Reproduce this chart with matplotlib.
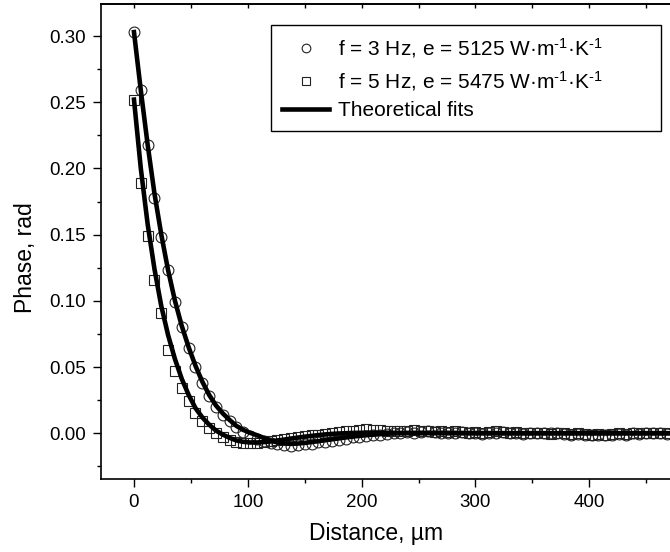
import matplotlib
matplotlib.use("Agg")
import matplotlib.pyplot as plt
from matplotlib.ticker import MultipleLocator

plt.rcParams['font.family'] = ['Liberation Sans', 'DejaVu Sans']
plt.rcParams['mathtext.fontset'] = 'custom'
plt.rcParams['mathtext.rm'] = 'Liberation Sans'
plt.rcParams['mathtext.it'] = 'Liberation Sans:italic'

# measured phase, 3 Hz (circles) and 5 Hz (squares)
x_data = [0, 6, 12, 18, 24, 30, 36, 42, 48, 54, 60, 66, 72, 78, 84, 90, 96, 102,
          108, 114, 120, 126, 132, 138, 144, 150, 156, 162, 168, 174, 180, 186,
          192, 198, 204, 210, 216, 222, 228, 234, 240, 246, 252, 258, 264, 270,
          276, 282, 288, 294, 300, 306, 312, 318, 324, 330, 336, 342, 348, 354,
          360, 366, 372, 378, 384, 390, 396, 402, 408, 414, 420, 426, 432, 438,
          444, 450, 456, 462, 468]

phase_3hz = [0.303, 0.259, 0.218, 0.178, 0.148, 0.123, 0.099, 0.080, 0.064, 0.050,
             0.038, 0.028, 0.020, 0.014, 0.009, 0.005, 0.001, -0.002, -0.004, -0.006,
             -0.0075, -0.0085, -0.009, -0.0095, -0.009, -0.0085, -0.008, -0.007,
             -0.0065, -0.0055, -0.005, -0.004, -0.003, -0.0025, -0.002, -0.0015,
             -0.001, -0.0005, 0.0, 0.0005, 0.001, 0.0005, 0.001, 0.0015, 0.001,
             0.0005, 0.0, 0.0005, 0.001, 0.0005, 0.0, -0.0005, 0.0, 0.0005, 0.001,
             0.0005, 0.0, -0.0005, 0.0, 0.0005, 0.0, 0.0005, 0.0, -0.0005, -0.001,
             -0.0005, -0.001, -0.0015, -0.001, -0.0015, -0.001, -0.0005, -0.001,
             0.0, -0.0005, 0.0, 0.0005, 0.0, -0.0005]

phase_5hz = [0.252, 0.189, 0.149, 0.116, 0.091, 0.063, 0.047, 0.034, 0.024, 0.015,
             0.009, 0.004, 0.000, -0.003, -0.005, -0.0065, -0.0075, -0.0075, -0.0072,
             -0.007, -0.006, -0.005, -0.004, -0.0035, -0.003, -0.002, -0.0015, -0.001,
             -0.0005, 0.0, 0.001, 0.0015, 0.002, 0.0025, 0.003, 0.0028, 0.0025, 0.002,
             0.002, 0.0015, 0.002, 0.0025, 0.002, 0.0015, 0.001, 0.0015, 0.001, 0.0015,
             0.001, 0.0005, 0.001, 0.0005, 0.001, 0.0015, 0.001, 0.0005, 0.001, 0.0005,
             0.0, 0.0005, 0.0, -0.0005, 0.0005, 0.0, -0.0005, 0.0, -0.0005, -0.001,
             -0.0005, -0.001, -0.0005, 0.0, -0.0005, 0.0, 0.0005, 0.0, 0.0005, 0.0,
             0.0005]

# theoretical fits
x_fit = [0, 6, 12, 18, 24, 30, 36, 42, 48, 54, 60, 66, 72, 78, 84, 90, 96, 102, 108,
         114, 120, 126, 132, 138, 144, 150, 156, 162, 168, 174, 180, 186, 192, 198,
         204, 210, 216, 222, 228, 234, 240, 250, 260, 270, 285, 300, 330, 360, 400,
         440, 490]

fit_3hz = [0.303, 0.259, 0.218, 0.181, 0.150, 0.123, 0.100, 0.081, 0.065, 0.051,
           0.039, 0.029, 0.021, 0.015, 0.010, 0.0055, 0.0025, 0.0003, -0.0015,
           -0.0035, -0.0055, -0.007, -0.0078, -0.008, -0.0078, -0.0073, -0.0067,
           -0.006, -0.0053, -0.0046, -0.0039, -0.0032, -0.0026, -0.002, -0.0015,
           -0.0011, -0.0007, -0.0004, -0.0002, 0.0, 0.0001, 0.0002, 0.0003, 0.0003,
           0.0002, 0.0001, 0.0, 0.0, 0.0, 0.0, 0.0]

fit_5hz = [0.252, 0.200, 0.158, 0.124, 0.096, 0.074, 0.056, 0.041, 0.029, 0.019,
           0.012, 0.0065, 0.002, -0.001, -0.0035, -0.0055, -0.0065, -0.007, -0.007,
           -0.0067, -0.0062, -0.0055, -0.0048, -0.004, -0.0033, -0.0026, -0.002,
           -0.0014, -0.0009, -0.0005, -0.0002, 0.0, 0.0002, 0.0003, 0.0004, 0.0004,
           0.0004, 0.0004, 0.0003, 0.0002, 0.0002, 0.0001, 0.0001, 0.0, 0.0, 0.0,
           0.0, 0.0, 0.0, 0.0, 0.0]

sup = r'$^{\text{-1}}$'
labels = ['f = 3 Hz, e = 5125 W·m' + sup + '·K' + sup,
          'f = 5 Hz, e = 5475 W·m' + sup + '·K' + sup,
          'Theoretical fits']

fig = plt.figure(figsize=(6.7, 5.52), dpi=100)
ax = fig.add_axes([0.1507, 0.1322, 0.8716, 0.8605])

c, = ax.plot(x_data, phase_3hz, 'o', ms=7.8, mfc='none', mec='#222222', mew=0.8, zorder=2)
s, = ax.plot(x_data, phase_5hz, 's', ms=6.5, mfc='none', mec='#222222', mew=0.8, zorder=2)
l, = ax.plot(x_fit, fit_3hz, '-', color='black', lw=3.3, zorder=3)
ax.plot(x_fit, fit_5hz, '-', color='black', lw=3.3, zorder=3)

ax.set_xlim(-29, 484)
ax.set_ylim(-0.0346, 0.3242)
ax.xaxis.set_major_locator(MultipleLocator(100))
ax.xaxis.set_minor_locator(MultipleLocator(50))
ax.yaxis.set_major_locator(MultipleLocator(0.05))
ax.yaxis.set_minor_locator(MultipleLocator(0.025))
ax.yaxis.set_major_formatter(matplotlib.ticker.FormatStrFormatter('%.2f'))

ax.tick_params(which='both', direction='out', width=1.0, labelsize=13.5, pad=5,
               top=False, right=False)
ax.tick_params(which='major', length=6)
ax.tick_params(which='minor', length=3)
for sp in ax.spines.values():
    sp.set_linewidth(1.2)
ax.spines['right'].set_visible(False)

# inward ticks on top spine
top = ax.secondary_xaxis('top')
top.xaxis.set_major_locator(MultipleLocator(50))
top.tick_params(direction='in', length=3, width=1.0, labeltop=False)
top.spines['top'].set_linewidth(1.2)

ax.set_xlabel('Distance, µm', fontsize=16.5)
ax.set_ylabel('Phase, rad', fontsize=16.5)
ax.xaxis.set_label_coords(0.471, -0.09)
ax.yaxis.set_label_coords(-0.11, 0.467)

leg = ax.legend([c, s, l], labels, loc='upper left',
                bbox_to_anchor=(0.291, 0.736, 0.668, 0.22), mode='expand',
                borderaxespad=0, fontsize=15, frameon=True, fancybox=False,
                edgecolor='black', framealpha=1, markerscale=0.8,
                handlelength=2.25, handletextpad=0.4, labelspacing=0.4,
                borderpad=0.55)
leg.get_frame().set_linewidth(1.0)

fig.savefig('out.png', dpi=100)
